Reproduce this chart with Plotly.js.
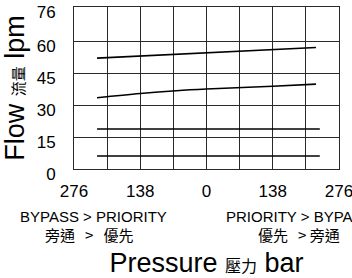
<!DOCTYPE html>
<html>
<head>
<meta charset="utf-8">
<script src="https://cdn.plot.ly/plotly-3.0.1.min.js"></script>
<style>html,body{margin:0;padding:0;background:#fff;}#chart{width:352px;height:278px;}</style>
</head>
<body>
<div id="chart"></div>
<script>
// Data (pressure in bar, negative = bypass side; flow in lpm)
const line1X = [-228, 228];
const line1Y = [52.0, 57.0];
const line2X = [-228, -138, -63, 0, 138, 228];
const line2Y = [33.4, 35.4, 36.7, 37.5, 38.8, 39.8];
const line3X = [-228, 236];
const line3Y = [18.8, 18.8];
const line4X = [-228, 236];
const line4Y = [6.1, 6.1];

const xTickVals = [-276, -207, -138, -69, 0, 69, 138, 207, 276];
const xTickText = ["276", "", "138", "", "0", "", "138", "", "276"];
const yTickVals = [0, 15, 30, 45, 60, 76];
const yTickText = ["0", "15", "30", "45", "60", "76"];

const LAT = "Liberation Sans, Arial, sans-serif";
const CJK = "Noto Sans CJK TC, Noto Sans CJK SC, sans-serif";
const lineStyle = {color: "#000", width: 1.6};
const NB = "&nbsp;";

const traces = [
  {x: line1X, y: line1Y, mode: "lines", line: lineStyle, hoverinfo: "skip"},
  {x: line2X, y: line2Y, mode: "lines", line: Object.assign({shape: "spline"}, lineStyle), hoverinfo: "skip"},
  {x: line3X, y: line3Y, mode: "lines", line: lineStyle, hoverinfo: "skip"},
  {x: line4X, y: line4Y, mode: "lines", line: lineStyle, hoverinfo: "skip"}
];

const layout = {
  width: 352, height: 278,
  margin: {l: 74, r: 13, t: 7, b: 109, pad: 0},
  paper_bgcolor: "#fff", plot_bgcolor: "#fff",
  showlegend: false,
  font: {family: LAT, color: "#000"},
  xaxis: {
    range: [-276, 276], fixedrange: true,
    tickmode: "array", tickvals: xTickVals, ticktext: xTickText,
    tickfont: {family: LAT, size: 17, color: "#000"},
    ticks: "", ticklabelstandoff: 7, ticklabeloverflow: "allow",
    showgrid: true, gridcolor: "#2a2a2a", gridwidth: 1,
    zeroline: false,
    showline: true, mirror: true, linecolor: "#2a2a2a", linewidth: 1,
    title: {
      text: 'Pressure <span style="font-family:Noto Sans CJK TC;font-size:16px">壓力</span> bar',
      font: {family: LAT, size: 27, color: "#000"},
      standoff: 55
    }
  },
  yaxis: {
    range: [0, 76], fixedrange: true,
    tickmode: "array", tickvals: yTickVals, ticktext: yTickText,
    tickfont: {family: LAT, size: 17, color: "#000"},
    ticks: "", ticklabelstandoff: 14, ticklabeloverflow: "allow",
    ticklabelshift: 5,
    showgrid: true, gridcolor: "#2a2a2a", gridwidth: 1,
    zeroline: false,
    showline: true, mirror: true, linecolor: "#2a2a2a", linewidth: 1,
    title: {
      text: 'Flow <span style="font-family:Noto Sans CJK TC;font-size:15px">流量</span> lpm',
      font: {family: LAT, size: 27, color: "#000"},
      standoff: 4
    }
  },
  annotations: [
    {xref: "paper", yref: "paper", x: 0.074, y: -0.294, xanchor: "center", yanchor: "middle",
     text: "BYPASS > PRIORITY", showarrow: false,
     font: {family: LAT, size: 15, color: "#000"}},
    {xref: "paper", yref: "paper", x: 0.06, y: -0.405, xanchor: "center", yanchor: "middle",
     text: "旁通" + NB + NB + " >" + NB + NB + " 優先", showarrow: false,
     font: {family: CJK, size: 15, color: "#000"}},
    {xref: "paper", yref: "paper", x: 0.566, y: -0.294, xanchor: "left", yanchor: "middle",
     text: "PRIORITY > BYPASS", showarrow: false,
     font: {family: LAT, size: 15, color: "#000"}},
    {xref: "paper", yref: "paper", x: 0.85, y: -0.405, xanchor: "center", yanchor: "middle",
     text: "優先" + NB + NB + " >" + NB + "旁通", showarrow: false,
     font: {family: CJK, size: 15, color: "#000"}}
  ]
};

Plotly.newPlot("chart", traces, layout, {staticPlot: true, displayModeBar: false});
</script>
</body>
</html>
